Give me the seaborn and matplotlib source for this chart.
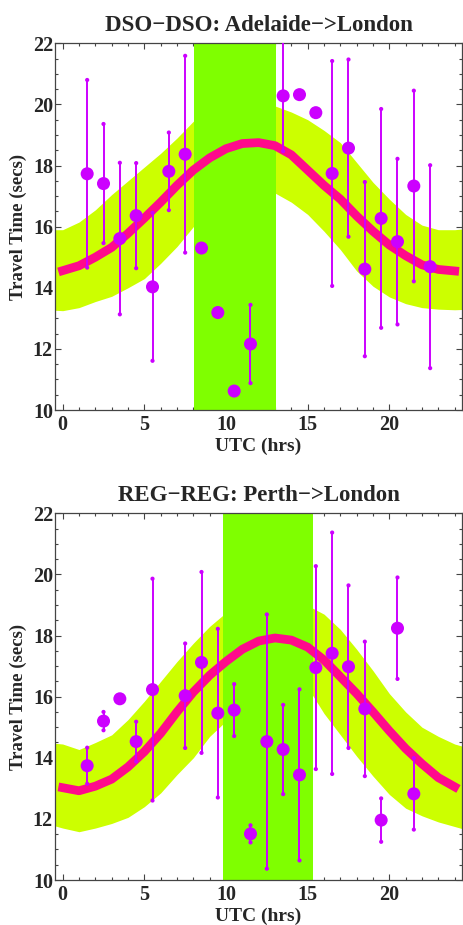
import numpy as np
import pandas as pd
import matplotlib
matplotlib.use("Agg")
import matplotlib.pyplot as plt
import seaborn as sns
from matplotlib.ticker import MultipleLocator

# ---------------- data ----------------
curve_hours = list(range(0, 25))
band_hours = list(range(-1, 26))

dso_title = "DSO\u2212DSO: Adelaide\u2212>London"
dso_hours = [1.5, 2.5, 3.5, 4.5, 5.5, 6.5, 7.5, 8.5, 9.5, 10.5, 11.5,
             13.5, 14.5, 15.5, 16.5, 17.5, 18.5, 19.5, 20.5, 21.5, 22.5]
dso_time = [17.73, 17.41, 15.61, 16.36, 14.03, 17.81, 18.37, 15.30, 13.19, 10.62, 12.16,
            20.28, 20.32, 19.73, 17.74, 18.57, 14.61, 16.27, 15.51, 17.33, 14.69]
dso_err = [3.07, 1.95, 2.48, 1.72, 2.42, 1.27, 3.22, 0, 0, 0, 1.28,
           1.81, 0, 0, 3.68, 2.90, 2.85, 3.58, 2.71, 3.12, 3.32]
dso_fit = [14.56, 14.72, 15.00, 15.32, 15.78, 16.28, 16.80, 17.35, 17.85, 18.25, 18.55,
           18.72, 18.75, 18.65, 18.35, 17.85, 17.35, 16.90, 16.35, 15.85, 15.40, 15.05,
           14.75, 14.60, 14.55]
dso_upper = [15.90, 15.90, 16.15, 16.55, 17.05, 17.50, 17.95, 18.40, 18.90, 19.45, 19.75,
             19.90, 20.00, 20.00, 19.95, 19.75, 19.50, 19.15, 18.75, 18.10, 17.45, 16.90,
             16.40, 16.05, 15.90, 15.90, 15.95]
dso_lower = [13.28, 13.25, 13.35, 13.55, 13.72, 14.00, 14.30, 14.80, 15.35, 16.00, 16.45,
             16.80, 17.05, 17.15, 17.10, 16.80, 16.40, 15.85, 15.25, 14.55, 14.05, 13.70,
             13.48, 13.35, 13.30, 13.28, 13.30]
dso_window = [8.05, 13.05]

reg_title = "REG\u2212REG: Perth\u2212>London"
reg_hours = [1.5, 2.5, 3.5, 4.5, 5.5, 7.5, 8.5, 9.5, 10.5, 11.5, 12.5,
             13.5, 14.5, 15.5, 16.5, 17.5, 18.5, 19.5, 20.5, 21.5]
reg_time = [13.74, 15.20, 15.93, 14.53, 16.23, 16.03, 17.12, 15.46, 15.56, 11.51, 14.53,
            14.27, 13.44, 16.95, 17.42, 16.98, 15.60, 11.96, 18.24, 12.82]
reg_err = [0.59, 0.30, 0, 0.65, 3.63, 1.71, 2.96, 2.76, 0.85, 0.28, 4.16,
           1.46, 2.80, 3.32, 3.95, 2.66, 2.20, 0.71, 1.66, 1.17]
reg_fit = [13.02, 12.92, 13.07, 13.30, 13.70, 14.20, 14.80, 15.50, 16.15, 16.70, 17.15,
           17.55, 17.82, 17.92, 17.85, 17.62, 17.20, 16.65, 16.10, 15.50, 14.88, 14.30,
           13.80, 13.35, 13.05]
reg_upper = [14.50, 14.45, 14.27, 14.50, 14.75, 15.25, 15.85, 16.50, 17.15, 17.75, 18.30,
             18.75, 19.00, 19.10, 19.10, 19.05, 18.98, 18.70, 18.20, 17.55, 16.85, 16.10,
             15.50, 15.00, 14.70, 14.45, 14.30]
reg_lower = [11.85, 11.70, 11.58, 11.70, 11.85, 12.05, 12.40, 12.85, 13.45, 14.00, 14.70,
             15.20, 15.80, 16.15, 16.35, 16.40, 16.30, 15.45, 14.75, 14.05, 13.40, 12.80,
             12.35, 12.10, 11.90, 11.75, 11.60]
reg_window = [9.8, 15.3]

x_label = "UTC (hrs)"
y_label = "Travel Time (secs)"

# ---------------- style ----------------
sns.set_style("ticks")
plt.rcParams['font.family'] = ['Liberation Serif', 'DejaVu Serif']
plt.rcParams['font.weight'] = 'bold'

BAND = '#CCFF00'
WIN = '#7FFF00'
FIT = '#FF0A8C'
PT = '#CC00FF'

fig = plt.figure(figsize=(4.63, 9.25), dpi=100)
W, H = 463.0, 925.0
ax1 = fig.add_axes([55 / W, 1 - 410 / H, 407 / W, 366.7 / H])
ax2 = fig.add_axes([55 / W, 1 - 880 / H, 407 / W, 366.7 / H])


def panel(ax, title, hours, times, err, fit, upper, lower, window):
    ax.fill_between(band_hours, lower, upper, color=BAND, lw=0, zorder=1)
    ax.axvspan(window[0], window[1], color=WIN, lw=0, zorder=2)
    fit_df = pd.DataFrame({'h': curve_hours, 'v': fit})
    sns.lineplot(data=fit_df, x='h', y='v', ax=ax, color=FIT, lw=6.3,
                 solid_capstyle='projecting', solid_joinstyle='round', zorder=3)

    h = np.array(hours)
    t = np.array(times)
    e = np.array(err)
    m = e > 0
    ax.vlines(h[m], t[m] - e[m], t[m] + e[m], color=PT, lw=1.4, zorder=4)
    ends = pd.DataFrame({'x': np.r_[h[m], h[m]], 'y': np.r_[t[m] - e[m], t[m] + e[m]]})
    sns.scatterplot(data=ends, x='x', y='y', ax=ax, s=9, color=PT,
                    edgecolor='none', linewidth=0, zorder=4)
    pts = pd.DataFrame({'x': hours, 'y': times})
    sns.scatterplot(data=pts, x='x', y='y', ax=ax, s=88, color=PT,
                    edgecolor='none', linewidth=0, zorder=5)

    ax.set_xlim(-0.47, 24.45)
    ax.set_ylim(10, 22)
    ax.xaxis.set_major_locator(MultipleLocator(5))
    ax.xaxis.set_minor_locator(MultipleLocator(1))
    ax.yaxis.set_major_locator(MultipleLocator(2))
    ax.yaxis.set_minor_locator(MultipleLocator(0.5))
    ax.tick_params(which='both', direction='in', top=True, right=True,
                   color='#444444', width=0.8)
    ax.tick_params(which='major', length=4.5, labelsize=14.5)
    ax.tick_params(which='minor', length=2.5)
    ax.tick_params(axis='y', pad=1.5)
    ax.tick_params(axis='x', pad=3.5)
    for lab in ax.get_xticklabels() + ax.get_yticklabels():
        lab.set_fontweight('bold')
    for sp in ax.spines.values():
        sp.set_color('#444444')
        sp.set_linewidth(0.9)
    ax.set_title(title, fontsize=16.5, fontweight='bold', pad=9)
    ax.set_xlabel(x_label, fontsize=14, fontweight='bold', labelpad=2)
    ax.set_ylabel(y_label, fontsize=13.5, fontweight='bold')
    ax.yaxis.label.set_va('center')
    ax.yaxis.set_label_coords(-0.09, 0.5)


panel(ax1, dso_title, dso_hours, dso_time, dso_err, dso_fit, dso_upper, dso_lower, dso_window)
panel(ax2, reg_title, reg_hours, reg_time, reg_err, reg_fit, reg_upper, reg_lower, reg_window)

fig.savefig("out.png", dpi=100)
